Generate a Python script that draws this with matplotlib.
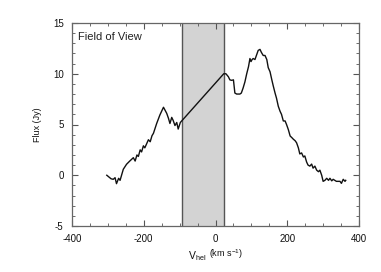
import matplotlib
matplotlib.use("Agg")
import matplotlib.pyplot as plt
from matplotlib.ticker import MultipleLocator

plt.rcParams['font.family'] = ['Liberation Sans', 'DejaVu Sans']
plt.rcParams['axes.unicode_minus'] = False
plt.rcParams['mathtext.fontset'] = 'custom'
plt.rcParams['mathtext.rm'] = 'Liberation Sans'

velocity = [-303, -291, -285, -280, -276, -270, -266, -257, -248, -239, -229, -224, -219, -215,
            -210, -206, -201, -197, -187, -182, -177, -173, -164, -155, -145, -136, -131, -127,
            -122, -118, -113, -108, -104, -98, -93,
            23, 29, 36, 40, 45, 50, 54, 59, 68, 72, 77, 82, 87, 92, 96, 99, 102, 105, 110, 115,
            119, 124, 128, 133, 138, 143, 147, 152, 157, 161, 166, 170, 175, 180, 184, 189, 194,
            198, 203, 208, 213, 217, 222, 226, 231, 235, 240, 245, 249, 254, 258, 263, 268, 272,
            277, 282, 287, 291, 296, 300, 305, 310, 315, 319, 324, 328, 337, 347, 351, 356, 361, 363]
flux = [0.0, -0.35, -0.4, -0.24, -0.83, -0.3, -0.5, 0.59, 1.08, 1.4, 1.73, 1.4, 2.0, 1.85,
        2.5, 2.3, 2.9, 2.7, 3.5, 3.3, 3.9, 4.13, 5.1, 5.94, 6.7, 6.1, 5.6, 5.1,
        5.7, 5.4, 4.9, 5.2, 4.55, 5.2, 5.4,
        10.0, 10.0, 9.7, 9.4, 9.35, 9.4, 8.1, 8.0, 8.0, 8.1, 8.6, 9.2, 10.0, 10.7, 11.5, 11.2,
        11.4, 11.5, 11.4, 11.9, 12.3, 12.4, 12.1, 11.8, 11.8, 11.4, 10.6, 10.2, 9.4, 8.8, 8.1,
        7.6, 6.8, 6.3, 6.0, 5.35, 5.35, 5.0, 4.5, 3.87, 3.7, 3.55, 3.4, 3.2, 2.7, 2.1, 2.2, 1.8,
        1.9, 1.3, 1.0, 0.9, 1.1, 0.7, 0.9, 0.5, 0.35, 0.5, 0.0, -0.6, -0.5, -0.3, -0.5, -0.3,
        -0.55, -0.4, -0.6, -0.6, -0.8, -0.4, -0.6, -0.5]

shade_range = (-93, 23)

W, H = 381, 272
fig = plt.figure(figsize=(W/100, H/100), dpi=100)
ax = fig.add_axes([72/W, 1 - 226/H, (359-72)/W, (226-23)/H])

ax.axvspan(shade_range[0], shade_range[1], facecolor='#d3d3d3', edgecolor='none', zorder=0)
ax.axvline(shade_range[0], color='#555555', lw=1.0, zorder=1)
ax.axvline(shade_range[1], color='#555555', lw=1.0, zorder=1)

ax.plot(velocity, flux, color='#111111', lw=1.0, zorder=2)

ax.set_xlim(-400, 400)
ax.set_ylim(-5, 15)
ax.xaxis.set_major_locator(MultipleLocator(200))
ax.xaxis.set_minor_locator(MultipleLocator(50))
ax.yaxis.set_major_locator(MultipleLocator(5))
ax.yaxis.set_minor_locator(MultipleLocator(1))
ax.tick_params(which='both', direction='in', top=True, right=True, labelsize=7, colors='#555555',
               labelcolor='#111111')
ax.tick_params(which='major', length=4, width=0.8)
ax.tick_params(which='minor', length=2, width=0.6)
ax.tick_params(axis='x', which='major', pad=6)
ax.tick_params(axis='y', which='major', pad=6)
for s in ax.spines.values():
    s.set_color('#666666')
    s.set_linewidth(0.9)

ax.text(0.02, 0.93, 'Field of View', transform=ax.transAxes, fontsize=8, color='#222222',
        va='center', ha='left')
fig.text(188/W, 1 - 259/H, r'V$_{\mathrm{hel}}$', fontsize=7.5, va='baseline', ha='left',
         color='#111111')
fig.text(209/W, 1 - 257/H, r'(km s$^{-1}$)', fontsize=6.5, va='baseline', ha='left',
         color='#111111')
ax.set_ylabel('Flux (Jy)', fontsize=6.5, labelpad=8, color='#111111')

fig.savefig('out.png', dpi=100)
